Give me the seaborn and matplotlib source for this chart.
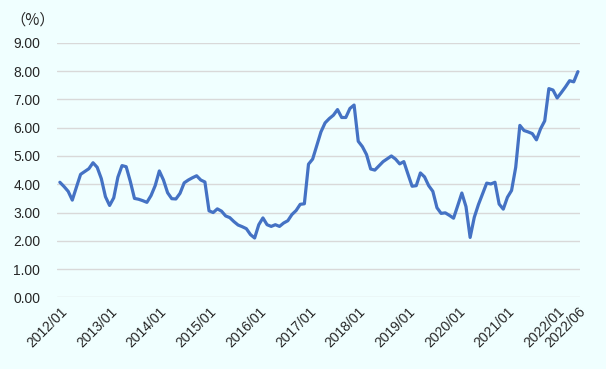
import numpy as np
import pandas as pd
import matplotlib
matplotlib.use("Agg")
import matplotlib.pyplot as plt
import seaborn as sns

# monthly values (%)
rates_2012 = [4.07, 3.92, 3.75, 3.44, 3.90, 4.35, 4.45, 4.55, 4.76, 4.60, 4.20, 3.56]
rates_2013 = [3.25, 3.52, 4.25, 4.66, 4.62, 4.10, 3.50, 3.47, 3.42, 3.36, 3.60, 3.95]
rates_2014 = [4.47, 4.15, 3.70, 3.49, 3.48, 3.68, 4.05, 4.15, 4.23, 4.30, 4.15, 4.08]
rates_2015 = [3.06, 3.00, 3.13, 3.05, 2.88, 2.82, 2.68, 2.56, 2.50, 2.43, 2.22, 2.10]
rates_2016 = [2.57, 2.81, 2.57, 2.51, 2.57, 2.51, 2.63, 2.71, 2.93, 3.07, 3.29, 3.31]
rates_2017 = [4.71, 4.89, 5.37, 5.85, 6.17, 6.32, 6.44, 6.64, 6.36, 6.36, 6.68, 6.80]
rates_2018 = [5.52, 5.33, 5.05, 4.54, 4.50, 4.65, 4.80, 4.90, 5.00, 4.89, 4.72, 4.80]
rates_2019 = [4.36, 3.93, 3.95, 4.40, 4.26, 3.95, 3.75, 3.17, 2.97, 2.99, 2.90, 2.80]
rates_2020 = [3.24, 3.69, 3.21, 2.12, 2.83, 3.28, 3.66, 4.04, 4.01, 4.07, 3.30, 3.12]
rates_2021 = [3.54, 3.78, 4.60, 6.08, 5.90, 5.85, 5.79, 5.57, 5.96, 6.24, 7.38, 7.33]
rates_2022 = [7.05, 7.24, 7.44, 7.66, 7.62, 7.98]

tick_labels = ["2012/01", "2013/01", "2014/01", "2015/01", "2016/01", "2017/01",
               "2018/01", "2019/01", "2020/01", "2021/01", "2022/01", "2022/06"]
y_ticks = [0, 1, 2, 3, 4, 5, 6, 7, 8, 9]

rates = (rates_2012 + rates_2013 + rates_2014 + rates_2015 + rates_2016 + rates_2017
         + rates_2018 + rates_2019 + rates_2020 + rates_2021 + rates_2022)
months = pd.period_range("2012-01", periods=len(rates), freq="M").strftime("%Y/%m").tolist()
df = pd.DataFrame({"idx": np.arange(len(rates)), "month": months, "rate": rates})

bg = "#F0FFFF"
sns.set_style("white")
plt.rcParams["font.family"] = ["Liberation Sans", "DejaVu Sans"]

fig = plt.figure(figsize=(6.06, 3.69), dpi=100, facecolor=bg)
ax = fig.add_axes([0.094, 0.194, 0.863, 0.690], facecolor=bg)

sns.lineplot(data=df, x="idx", y="rate", ax=ax, color="#4472C4", linewidth=2.3)

ax.set_ylim(0, 9)
ax.set_xlim(-0.7, len(rates) - 0.5)
ax.set_yticks(y_ticks)
ax.set_yticklabels([f"{v:.2f}" for v in y_ticks], fontsize=10)
ax.yaxis.grid(True, color="#D9D9D9", linewidth=1)
ax.set_axisbelow(True)

tick_pos = [months.index(t) for t in tick_labels]
ax.set_xticks(tick_pos)
ax.set_xticklabels(tick_labels, rotation=45, ha="right", va="top",
                   rotation_mode="anchor", fontsize=10)
ax.tick_params(axis="both", length=0)
ax.tick_params(axis="y", pad=12)
ax.tick_params(axis="x", pad=5)
ax.set_xlabel("")
ax.set_ylabel("")
sns.despine(ax=ax, left=True, bottom=True)

fig.text(0.054, 0.947, "（%）", ha="center", va="center", fontsize=11,
         family=["Noto Sans CJK JP", "DejaVu Sans"])

fig.savefig("out.png", dpi=100, facecolor=bg)
